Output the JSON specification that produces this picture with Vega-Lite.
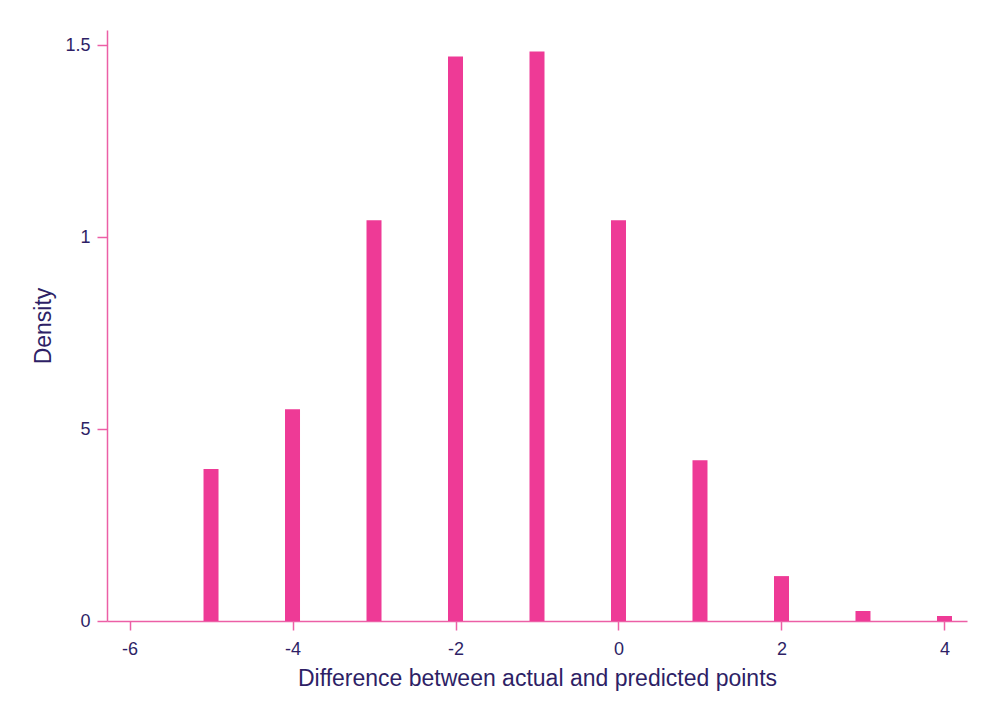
{
  "$schema": "https://vega.github.io/schema/vega-lite/v6.json",
  "width": 860,
  "height": 591,
  "autosize": {"type": "none"},
  "padding": {"left": 107, "top": 30, "right": 18, "bottom": 81},
  "background": "white",
  "config": {
    "view": {"stroke": null},
    "font": "Liberation Sans",
    "axis": {
      "grid": false,
      "domainColor": "#EC5FA6",
      "tickColor": "#EC5FA6",
      "labelColor": "#2E1F66",
      "titleColor": "#2E1F66",
      "labelFont": "Liberation Sans",
      "titleFont": "Liberation Sans",
      "labelFontSize": 18,
      "titleFontSize": 23,
      "titleFontWeight": "normal",
      "domainWidth": 1.5,
      "tickWidth": 1.5
    }
  },
  "data": {
    "values": [
      {"diff": -5, "density": 0.396},
      {"diff": -4, "density": 0.552},
      {"diff": -3, "density": 1.044},
      {"diff": -2, "density": 1.471},
      {"diff": -1, "density": 1.484},
      {"diff": 0, "density": 1.044},
      {"diff": 1, "density": 0.419},
      {"diff": 2, "density": 0.117},
      {"diff": 3, "density": 0.026},
      {"diff": 4, "density": 0.013}
    ]
  },
  "mark": {"type": "bar", "color": "#EE3A96", "size": 15},
  "encoding": {
    "x": {
      "field": "diff",
      "type": "quantitative",
      "scale": {"domain": [-6.215, 4.215], "nice": false, "zero": false},
      "axis": {
        "values": [-6, -4, -2, 0, 2, 4],
        "labelExpr": "toString(datum.value)",
        "title": "Difference between actual and predicted points",
        "domainColor": "#EC5FA6",
        "tickColor": "#EC5FA6",
        "tickSize": 9,
        "labelPadding": 10,
        "titlePadding": 9
      }
    },
    "y": {
      "field": "density",
      "type": "quantitative",
      "scale": {"domain": [0, 1.54], "nice": false},
      "axis": {
        "values": [0, 0.5, 1, 1.5],
        "labelExpr": "datum.value == 0.5 ? '5' : toString(datum.value)",
        "title": "Density",
        "domainColor": "#EC5FA6",
        "tickColor": "#EC5FA6",
        "tickSize": 10,
        "labelPadding": 7,
        "titlePadding": 9
      }
    }
  }
}
